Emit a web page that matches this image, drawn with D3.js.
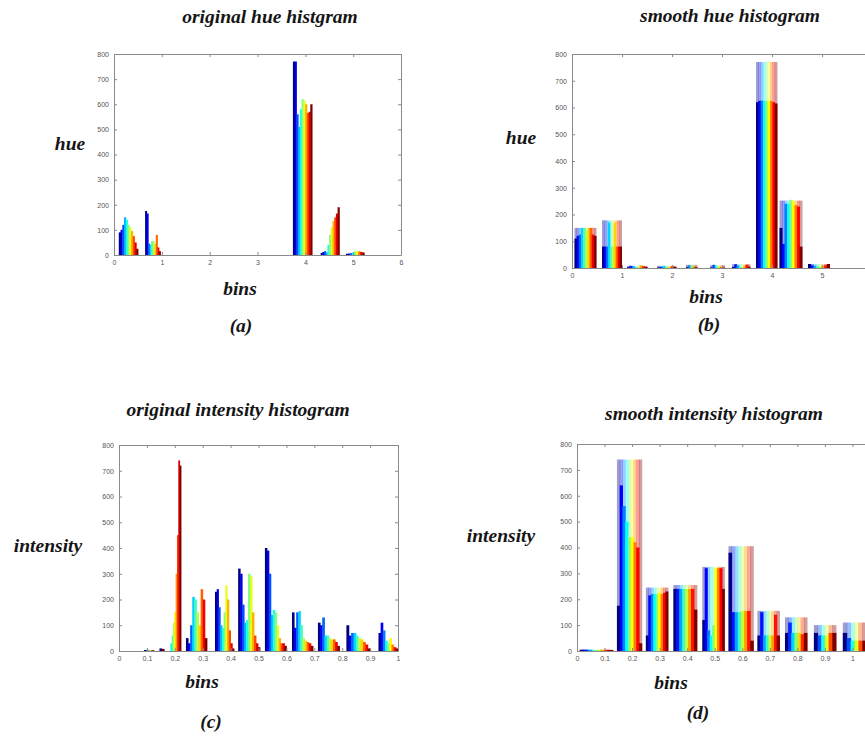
<!DOCTYPE html>
<html>
<head>
<meta charset="utf-8">
<script src="https://cdn.jsdelivr.net/npm/d3@7"></script>
<style>
  body { margin: 0; background: #fff; }
  svg { display: block; }
  .lbl { font-family: "Liberation Serif", "DejaVu Serif", serif; font-style: italic; font-weight: bold; font-size: 19.5px; fill: #151515; }
  .tick text { font-family: "Liberation Sans", sans-serif; font-size: 7px; fill: #555; }
  .tick line, .domain { stroke: #8a8a8a; }
</style>
</head>
<body>
<svg id="viz" width="865" height="736"></svg>
<script>
// ticks
var countTicks = [0, 100, 200, 300, 400, 500, 600, 700, 800];
var hueTicks = [0, 1, 2, 3, 4, 5, 6];
var hueTicksCut = [0, 1, 2, 3, 4, 5];
var intTicks = [0, 0.1, 0.2, 0.3, 0.4, 0.5, 0.6, 0.7, 0.8, 0.9, 1];

// (a) original hue histogram: [start, end] of each bin group, values blue -> red
var hueOrigSpans = [[0.1, 0.5], [0.65, 0.97], [3.74, 4.14], [4.32, 4.71], [4.85, 5.23]];
var hueOrigValues = [
  [90, 100, 120, 150, 140, 120, 110, 95, 75, 50, 25],
  [175, 165, 45, 40, 55, 55, 45, 80, 30, 15],
  [770, 770, 560, 510, 580, 620, 615, 600, 565, 570, 600],
  [8, 12, 15, 10, 40, 80, 110, 135, 150, 165, 190],
  [5, 6, 8, 10, 14, 16, 15, 12, 10]
];

// (b) smooth hue histogram
var hueSmoothSpans = [[0.05, 0.48], [0.6, 0.99], [1.1, 1.5], [1.7, 2.08], [2.28, 2.5], [2.76, 3.05], [3.2, 3.56], [3.68, 4.1], [4.15, 4.6], [4.72, 5.15]];
var hueSmoothTops = [150, 178, 8, 8, 12, 10, 14, 770, 252, 15];
var hueSmoothBases = [
  [110, 120, 125, 150, 150, 140, 150, 150, 125, 120],
  [80, 80, 80, 170, 80, 80, 170, 80, 80, 80],
  [3, 8, 6, 3, 2, 10, 6, 4],
  [2, 4, 8, 5, 3, 6, 4],
  [3, 10, 12, 6, 3],
  [2, 12, 8, 5, 3, 2],
  [4, 14, 10, 4, 2, 6, 12, 5],
  [620, 625, 625, 625, 625, 625, 625, 620, 615],
  [150, 90, 240, 240, 255, 250, 235, 230, 80],
  [15, 10, 8, 6, 5, 8, 10, 15]
];

// (c) original intensity histogram
var intOrigSpans = [[0.09, 0.125], [0.145, 0.162], [0.165, 0.222], [0.24, 0.315], [0.344, 0.412], [0.427, 0.505], [0.523, 0.6], [0.62, 0.695], [0.713, 0.79], [0.815, 0.9], [0.93, 1.0]];
var intOrigValues = [
  [4, 5, 4, 3],
  [10, 8],
  [0, 0, 0, 0, 30, 60, 110, 150, 300, 450, 740, 720],
  [50, 30, 100, 210, 200, 150, 100, 240, 200, 50],
  [230, 240, 170, 100, 90, 150, 255, 200, 80, 30, 10],
  [320, 300, 180, 110, 120, 300, 290, 150, 60, 30, 15],
  [400, 390, 300, 140, 160, 150, 100, 50, 30, 30, 20],
  [150, 90, 150, 155, 100, 50, 40, 35, 30, 20],
  [110, 100, 130, 60, 60, 50, 45, 45, 35, 20],
  [100, 60, 70, 70, 60, 50, 45, 35, 25, 10],
  [70, 110, 80, 40, 30, 50, 25, 15, 10]
];

// (d) smooth intensity histogram
var intSmoothSpans = [[0.01, 0.13], [0.145, 0.235], [0.25, 0.33], [0.35, 0.435], [0.455, 0.535], [0.55, 0.64], [0.655, 0.735], [0.755, 0.835], [0.86, 0.94], [0.965, 1.05]];
var intSmoothTops = [5, 740, 245, 255, 325, 405, 155, 130, 100, 110];
var intSmoothBases = [
  [5, 5, 5, 3, 5, 5, 5, 4],
  [175, 640, 560, 500, 440, 440, 420, 400, 30],
  [60, 215, 220, 220, 220, 225, 220, 225, 230],
  [240, 240, 240, 240, 240, 240, 240, 160],
  [120, 320, 80, 60, 100, 320, 320, 320, 240],
  [380, 150, 150, 150, 155, 155, 155, 40],
  [60, 150, 60, 60, 60, 60, 140, 60],
  [70, 110, 70, 70, 70, 65, 70],
  [70, 60, 60, 60, 70, 70],
  [70, 50, 40, 40, 40, 40]
];

var svg = d3.select("#viz");

// matlab jet colormap
function jet(t) {
  function c(v) { return Math.max(0, Math.min(1, v)) * 255; }
  var r = c(Math.min(4 * t - 1.5, -4 * t + 4.5)),
    g = c(Math.min(4 * t - 0.5, -4 * t + 3.5)),
    b = c(Math.min(4 * t + 0.5, -4 * t + 2.5));
  return d3.rgb(r, g, b).toString();
}

function panel(o) {
  var x = d3.scaleLinear().domain(o.xDomain).range([o.left, o.right]);
  var y = d3.scaleLinear().domain([0, 800]).range([o.bottom, o.top]);
  var g = svg.append("g");

  o.spans.forEach(function(span, gi) {
    var vals = o.bases ? o.bases[gi] : o.values[gi];
    var band = d3.scaleBand().domain(d3.range(vals.length)).range([x(span[0]), x(span[1])]);
    var col = function(d, i) { return jet(vals.length > 1 ? i / (vals.length - 1) : 0.5); };
    if (o.tops) {
      // pale smoothed layer
      g.append("g").selectAll("rect")
        .data(vals)
        .enter()
        .append("rect")
        .attr("x", function(d, i) { return band(i); })
        .attr("width", band.bandwidth() + 0.5)
        .attr("y", y(o.tops[gi]))
        .attr("height", y(0) - y(o.tops[gi]))
        .attr("fill", col)
        .attr("opacity", 0.38);
    }
    g.append("g").selectAll("rect")
      .data(vals)
      .enter()
      .append("rect")
      .attr("x", function(d, i) { return band(i); })
      .attr("width", band.bandwidth() + 0.5)
      .attr("y", function(d) { return y(d); })
      .attr("height", function(d) { return y(0) - y(d); })
      .attr("fill", col);
  });

  var fmt = function(d) { return String(d); };
  g.append("g").attr("transform", "translate(0," + o.bottom + ")")
    .call(d3.axisBottom(x).tickValues(o.xTicks).tickFormat(fmt).tickSizeInner(-3).tickSizeOuter(0).tickPadding(5));
  g.append("g").attr("transform", "translate(0," + o.top + ")")
    .call(d3.axisTop(x).tickValues(o.xTicks).tickFormat("").tickSizeInner(-3).tickSizeOuter(0));
  g.append("g").attr("transform", "translate(" + o.left + ",0)")
    .call(d3.axisLeft(y).tickValues(countTicks).tickSizeInner(-3).tickSizeOuter(0).tickPadding(5));
  g.append("g").attr("transform", "translate(" + o.right + ",0)")
    .call(d3.axisRight(y).tickValues(countTicks).tickFormat("").tickSizeInner(-3).tickSizeOuter(0));

  var L = o.labels;
  svg.append("text").attr("class", "lbl").attr("text-anchor", "middle").attr("x", L.title[0]).attr("y", L.title[1]).text(L.title[2]);
  svg.append("text").attr("class", "lbl").attr("text-anchor", "middle").attr("x", L.ylab[0]).attr("y", L.ylab[1]).text(L.ylab[2]);
  svg.append("text").attr("class", "lbl").attr("text-anchor", "middle").attr("x", L.xlab[0]).attr("y", L.xlab[1]).text("bins");
  svg.append("text").attr("class", "lbl").attr("text-anchor", "middle").attr("x", L.tag[0]).attr("y", L.tag[1]).text(L.tag[2]);
}

panel({
  xDomain: [0, 6], left: 114, right: 401, top: 54, bottom: 255,
  xTicks: hueTicks, spans: hueOrigSpans, values: hueOrigValues,
  labels: { title: [270, 23, "original hue histgram"], ylab: [70, 150, "hue"], xlab: [240, 295], tag: [241, 332, "(a)"] }
});

panel({
  xDomain: [0, 6], left: 572, right: 872, top: 54, bottom: 268,
  xTicks: hueTicksCut, spans: hueSmoothSpans, tops: hueSmoothTops, bases: hueSmoothBases,
  labels: { title: [730, 22, "smooth hue histogram"], ylab: [521, 144, "hue"], xlab: [706, 303], tag: [709, 331, "(b)"] }
});

panel({
  xDomain: [0, 1], left: 119, right: 398, top: 445, bottom: 651,
  xTicks: intTicks, spans: intOrigSpans, values: intOrigValues,
  labels: { title: [238, 416, "original intensity histogram"], ylab: [48, 552, "intensity"], xlab: [202, 688], tag: [211, 728, "(c)"] }
});

panel({
  xDomain: [0, 1.1], left: 577, right: 880, top: 444, bottom: 651,
  xTicks: intTicks, spans: intSmoothSpans, tops: intSmoothTops, bases: intSmoothBases,
  labels: { title: [714, 420, "smooth intensity histogram"], ylab: [501, 542, "intensity"], xlab: [671, 689], tag: [698, 719, "(d)"] }
});
</script>
</body>
</html>
